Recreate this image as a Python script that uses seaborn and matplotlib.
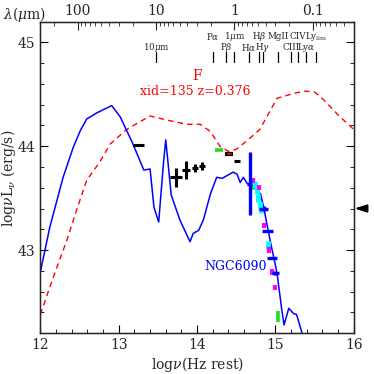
import numpy as np
import pandas as pd
import matplotlib
matplotlib.use("Agg")
import matplotlib.pyplot as plt
import seaborn as sns

# ---- data ----
agn_x = [12.0, 12.16, 12.34, 12.46, 12.59, 12.76, 12.89, 13.10, 13.19, 13.40, 13.62, 13.87, 14.04, 14.17,
         14.29, 14.40, 14.50, 14.65, 14.80, 15.02, 15.20, 15.36, 15.50, 15.61, 15.80, 16.0]
agn_y = [42.38, 42.73, 43.10, 43.38, 43.67, 43.85, 44.02, 44.16, 44.20, 44.29, 44.25, 44.21, 44.21, 44.14,
         44.00, 43.95, 43.97, 44.06, 44.16, 44.46, 44.50, 44.53, 44.52, 44.45, 44.30, 44.16]

gal_x = [12.0, 12.12, 12.29, 12.42, 12.51, 12.59, 12.72, 12.91, 13.02, 13.17, 13.32, 13.40, 13.45, 13.51, 13.57, 13.60,
         13.67, 13.78, 13.91, 13.95, 14.02, 14.08, 14.17, 14.25, 14.32, 14.46, 14.51, 14.55, 14.59,
         14.64, 14.70, 14.81, 14.85, 14.93, 15.02, 15.08, 15.11, 15.17, 15.23, 15.27, 15.34]
gal_y = [42.79, 43.22, 43.70, 43.99, 44.15, 44.26, 44.32, 44.39, 44.28, 44.04, 43.77, 43.78, 43.41, 43.27, 43.83, 44.06,
         43.53, 43.29, 43.08, 43.16, 43.19, 43.29, 43.54, 43.70, 43.69, 43.75, 43.73, 43.65, 43.70,
         43.64, 43.62, 43.54, 43.41, 43.10, 42.78, 42.43, 42.28, 42.44, 42.39, 42.38, 42.20]

# photometry (black crosses / bars)
blk_x = [13.25, 13.73, 13.86, 13.97, 14.06, 14.51, 14.78]
blk_y = [44.01, 43.70, 43.77, 43.79, 43.81, 43.86, 43.51]
blk_xe = [0.07, 0.075, 0.05, 0.04, 0.04, 0.04, 0.015]
blk_ye = [0.0, 0.09, 0.086, 0.04, 0.04, 0.0, 0.015]

red_bar_x = [14.41]
red_bar_y = [43.92]
green_x = [14.28, 14.70, 15.03]
green_y = [43.96, 43.60, 42.36]
green_xe = [0.05, 0.015, 0.02]
green_ye = [0.0, 0.02, 0.05]

blue_x = [14.67, 14.85, 14.90, 14.955, 15.0]
blue_y = [43.64, 43.40, 43.18, 42.92, 42.78]
blue_xe = [0.03, 0.06, 0.075, 0.065, 0.04]
blue_ye = [0.30, 0.02, 0.0, 0.0, 0.02]

cyan_x = [14.74, 14.76, 14.78, 14.80, 14.82, 14.90]
cyan_y = [43.63, 43.57, 43.50, 43.43, 43.39, 43.05]
mag_x = [14.71, 14.79, 14.86, 14.92, 14.96, 14.998]
mag_y = [43.67, 43.60, 43.24, 43.00, 42.79, 42.64]

line_names = [r"10$\mu$m", r"P$\alpha$", r"P$\beta$", r"1$\mu$m", r"H$\alpha$", r"H$\beta$",
              r"H$\gamma$", "MgII", "CIII", "CIV", r"Ly$\alpha$", r"Ly$_{\rm lim}$"]
line_lam = [10.0, 1.875, 1.282, 1.0, 0.6563, 0.4861, 0.434, 0.2798, 0.1909, 0.1549, 0.1216, 0.0912]
line_row = [0, 1, 0, 1, 0, 1, 0, 1, 0, 1, 0, 1]

top_major_lam = [100, 10, 1, 0.1]
top_major_labels = ["100", "10", "1", "0.1"]

# ---- plot ----
sns.set_style("ticks")
plt.rcParams["font.family"] = ["DejaVu Serif"]
plt.rcParams["mathtext.fontset"] = "dejavuserif"

fig = plt.figure(figsize=(3.74, 3.74), dpi=100)
ax = fig.add_axes([0.108, 0.109, 0.838, 0.831])

sns.lineplot(x=agn_x, y=agn_y, sort=False, ax=ax, color="red", lw=1.0, linestyle=(0, (4, 3)))
sns.lineplot(x=gal_x, y=gal_y, sort=False, ax=ax, color="blue", lw=1.1)

ax.errorbar(blk_x, blk_y, xerr=blk_xe, yerr=blk_ye, fmt="none", ecolor="black", elinewidth=2.2, capsize=0)
ax.errorbar(green_x, green_y, xerr=green_xe, yerr=green_ye, fmt="none", ecolor="#22dd22", elinewidth=2.6, capsize=0)
ax.errorbar(red_bar_x, red_bar_y, xerr=[0.05], fmt="none", ecolor="black", elinewidth=3.0, capsize=0)
ax.errorbar(red_bar_x, red_bar_y, xerr=[0.03], fmt="none", ecolor="red", elinewidth=1.2, capsize=0)
ax.errorbar(cyan_x, cyan_y, yerr=0.035, fmt="none", ecolor="cyan", elinewidth=3.5, capsize=0)
ax.errorbar(mag_x, mag_y, yerr=0.025, fmt="none", ecolor="magenta", elinewidth=3.0, capsize=0)
ax.errorbar(blue_x, blue_y, xerr=blue_xe, yerr=blue_ye, fmt="none", ecolor="blue", elinewidth=2.4, capsize=0)

ax.set_xlim(12, 16)
ax.set_ylim(42.2, 45.19)
ax.set_xticks([12, 13, 14, 15, 16])
ax.set_yticks([43, 44, 45])
ax.xaxis.set_minor_locator(matplotlib.ticker.MultipleLocator(0.2))
ax.yaxis.set_minor_locator(matplotlib.ticker.MultipleLocator(0.2))
ax.tick_params(which="both", direction="in", top=False, right=True, labelsize=10, color="black")
ax.tick_params(which="major", length=6, width=0.8)
ax.tick_params(which="minor", length=3, width=0.6)
for s in ax.spines.values():
    s.set_linewidth(1.0)
    s.set_color("black")
ax.set_xlabel(r"log$\nu$(Hz rest)", fontsize=10, labelpad=2)
ax.set_ylabel(r"log$\nu$L$_\nu$ (erg/s)", fontsize=10, labelpad=0)

c = 2.998e14
top = ax.twiny()
top.set_xlim(ax.get_xlim())
top.set_xticks([np.log10(c / l) for l in top_major_lam])
top.set_xticklabels(top_major_labels)
minor_pos = []
for dec in [100, 10, 1, 0.1, 0.01]:
    for m in range(2, 10):
        p = np.log10(c / (dec * m))
        if 12 < p < 16:
            minor_pos.append(p)
top.set_xticks(minor_pos, minor=True)
top.tick_params(which="both", direction="in", labelsize=10, pad=3)
top.tick_params(which="major", length=6, width=0.8)
top.tick_params(which="minor", length=3, width=0.6)
fig.text(0.008, 0.962, r"$\lambda(\mu$m)", fontsize=10, ha="left", va="center")

for name, lam, row in zip(line_names, line_lam, line_row):
    lx = np.log10(c / lam)
    ax.plot([lx, lx], [44.81, 44.907], color="black", lw=0.9)
    ax.text(lx, 45.05 if row else 44.95, name, fontsize=6.3, ha="center", va="center")

ax.text(14.0, 44.67, "F", color="red", fontsize=10, ha="center", va="center")
ax.text(13.98, 44.53, "xid=135 z=0.376", color="red", fontsize=9, ha="center", va="center")
ax.text(14.49, 42.84, "NGC6090", color="blue", fontsize=9, ha="center", va="center")

ax.annotate("", xy=(15.97, 43.40), xytext=(16.17, 43.40), annotation_clip=False,
            arrowprops=dict(arrowstyle="-|>,head_length=0.7,head_width=0.22", color="black", lw=1.5))

fig.savefig("out.png", dpi=100)
